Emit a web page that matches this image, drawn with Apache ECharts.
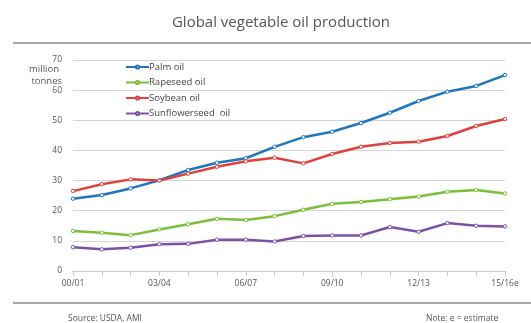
<!DOCTYPE html>
<html><head><meta charset="utf-8">
<script src="https://cdn.jsdelivr.net/npm/echarts@6/dist/echarts.min.js"></script>
<style>html,body{margin:0;padding:0;background:#fff}#c{width:531px;height:323px}</style>
</head><body><div id="c"></div>
<script>
var categories = ['00/01','01/02','02/03','03/04','04/05','05/06','06/07','07/08','08/09','09/10','10/11','11/12','12/13','13/14','14/15','15/16e'];
var tickLabels = {'00/01':1,'03/04':1,'06/07':1,'09/10':1,'12/13':1,'15/16e':1};
var palm = [24.0,25.2,27.4,30.1,33.5,35.9,37.4,41.2,44.4,46.2,49.1,52.5,56.4,59.5,61.4,65.0];
var rapeseed = [13.3,12.7,11.9,13.8,15.5,17.3,16.9,18.2,20.3,22.3,22.9,23.8,24.7,26.3,26.9,25.7];
var soybean = [26.5,28.8,30.4,30.0,32.3,34.6,36.4,37.6,35.7,38.8,41.2,42.5,42.9,44.8,48.1,50.4];
var sunflower = [7.9,7.2,7.7,8.9,9.0,10.4,10.4,9.8,11.6,11.8,11.8,14.6,13.0,15.9,15.0,14.8];
var names = ['Palm oil','Rapeseed oil','Soybean oil','Sunflowerseed  oil'];
var colors = ['#1f77c0','#7cbf3a','#e0403e','#7c52a8'];

var chart = echarts.init(document.getElementById('c'), null, {renderer:'canvas'});
function mk(name, data, color){
  return {name:name, type:'line', data:data, symbol:'circle', symbolSize:3.5,
    lineStyle:{color:color, width:2.5}, itemStyle:{color:'#fff', borderColor:color, borderWidth:1},
    emphasis:{disabled:true}, z:2};
}
chart.setOption({
  animation:false,
  title:{text:'Global vegetable oil production', left:276, textAlign:'center', top:10,
    textStyle:{fontFamily:'Open Sans', fontSize:15, fontWeight:'normal', color:'#555'}},
  grid:{left:73, right:26, top:60, bottom:52},
  legend:{orient:'vertical', left:120, top:57, itemWidth:23, itemHeight:4, itemGap:5.5,
    data:names, textStyle:{fontFamily:'Open Sans', fontSize:9.5, color:'#444', padding:[0,0,0,-5]}},
  xAxis:{type:'category', data:categories, boundaryGap:false,
    axisLine:{lineStyle:{color:'#c8c8c8'}}, axisTick:{show:true, length:5, lineStyle:{color:'#c8c8c8'}, interval:0},
    axisLabel:{interval:0, fontFamily:'Open Sans', fontSize:8.5, color:'#555', margin:8,
      formatter:function(v){return tickLabels[v]?v:'';}},
    splitLine:{show:false}},
  yAxis:{type:'value', min:0, max:70, interval:10,
    axisLine:{show:false}, axisTick:{show:false},
    axisLabel:{fontFamily:'Open Sans', fontSize:8.5, color:'#555', margin:11},
    splitLine:{lineStyle:{color:'#d4d4d4', width:1}}},
  series:[mk(names[0],palm,colors[0]), mk(names[1],rapeseed,colors[1]), mk(names[2],soybean,colors[2]), mk(names[3],sunflower,colors[3])],
  graphic:[
    {type:'line', shape:{x1:13,y1:43,x2:531,y2:43}, style:{stroke:'#888', lineWidth:1.5}},
    {type:'line', shape:{x1:13,y1:303,x2:531,y2:303}, style:{stroke:'#888', lineWidth:1.5}},
    {type:'text', x:59, y:64, style:{text:'million', textAlign:'right', fontFamily:'Open Sans', fontSize:9.5, fill:'#555'}},
    {type:'text', x:62, y:76, style:{text:'tonnes', textAlign:'right', fontFamily:'Open Sans', fontSize:9.5, fill:'#555'}},
    {type:'text', x:68, y:314, style:{text:'Source: USDA, AMI', fontFamily:'Open Sans', fontSize:8.5, fill:'#555'}},
    {type:'text', x:426, y:314, style:{text:'Note: e = estimate', fontFamily:'Open Sans', fontSize:8.5, fill:'#555'}}
  ]
});
</script></body></html>
